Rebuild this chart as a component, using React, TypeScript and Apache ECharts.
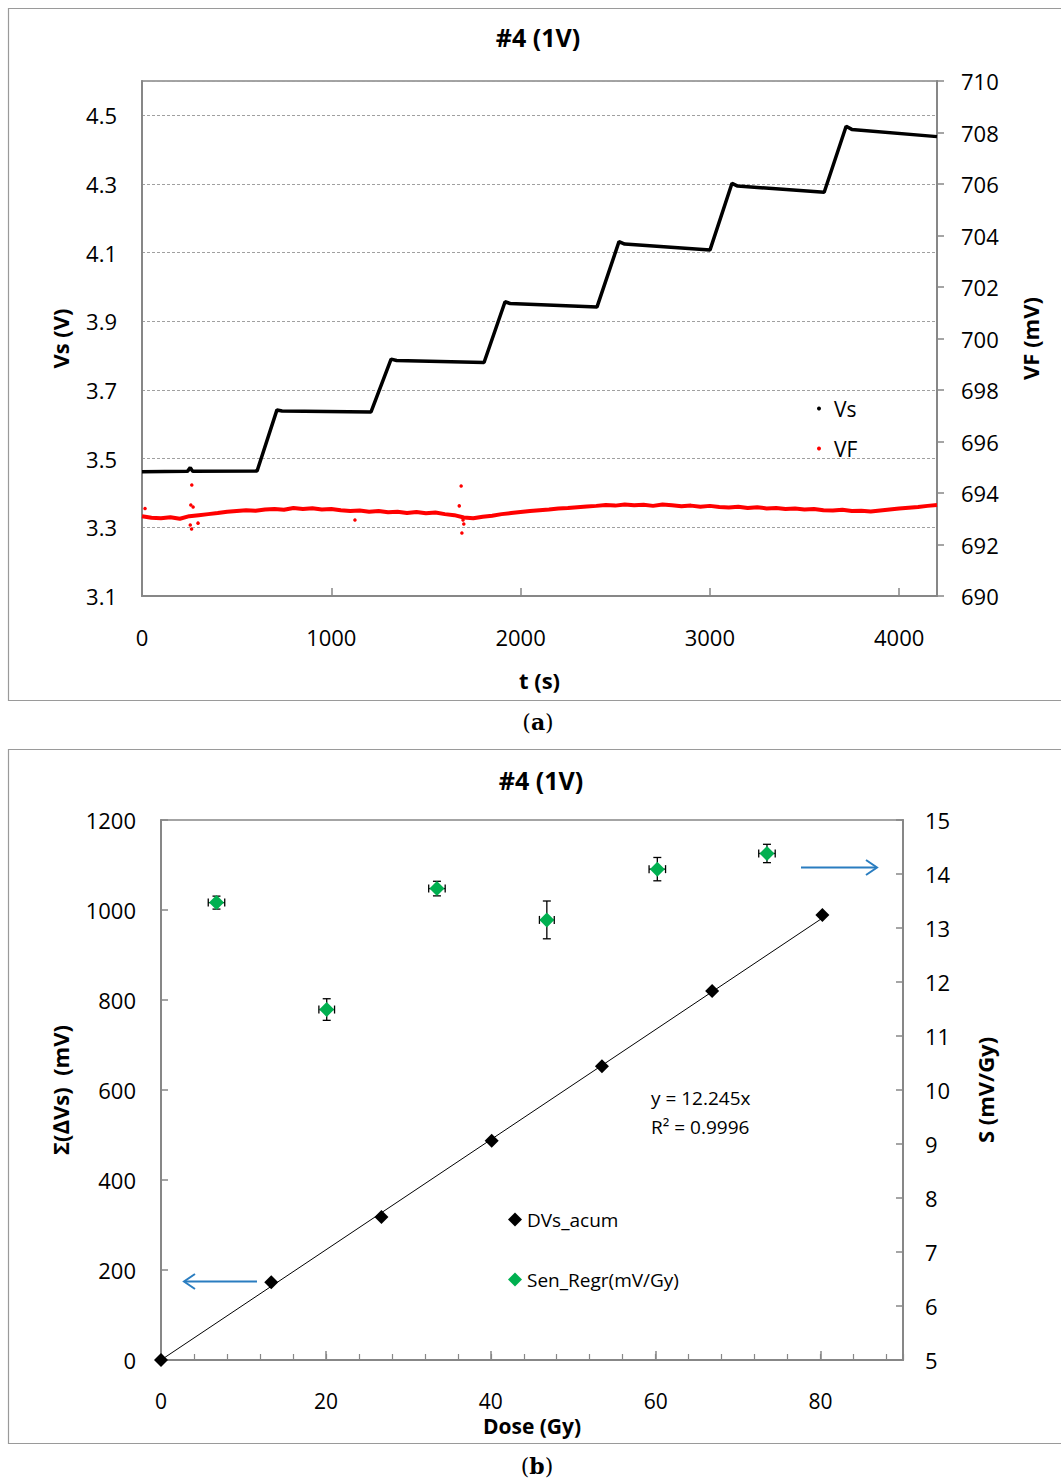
import React, { useEffect, useRef } from 'react';
import * as echarts from 'echarts';

// ---------- (a) time series ----------
const vsTime = [0, 240, 255, 268, 608, 713, 740, 1210, 1316, 1345, 1807, 1918, 1945, 2404, 2520, 2550, 3001, 3117, 3147, 3604, 3720, 3750, 4200];
const vsValue = [3.462, 3.463, 3.474, 3.463, 3.464, 3.642, 3.639, 3.636, 3.790, 3.786, 3.780, 3.957, 3.952, 3.942, 4.132, 4.125, 4.108, 4.302, 4.294, 4.276, 4.468, 4.459, 4.438];

const vfTime = [0, 50, 100, 150, 200, 250, 300, 350, 400, 450, 500, 550, 600, 650, 700, 750, 800, 850, 900, 950, 1000, 1050, 1100, 1150, 1200, 1250, 1300, 1350, 1400, 1450, 1500, 1550, 1600, 1650, 1700, 1750, 1800, 1850, 1900, 1950, 2000, 2050, 2100, 2150, 2200, 2250, 2300, 2350, 2400, 2450, 2500, 2550, 2600, 2650, 2700, 2750, 2800, 2850, 2900, 2950, 3000, 3050, 3100, 3150, 3200, 3250, 3300, 3350, 3400, 3450, 3500, 3550, 3600, 3650, 3700, 3750, 3800, 3850, 3900, 3950, 4000, 4050, 4100, 4150, 4200];
const vfValue = [693.10, 693.04, 693.02, 693.06, 693.00, 693.10, 693.14, 693.18, 693.22, 693.27, 693.30, 693.33, 693.31, 693.36, 693.38, 693.35, 693.42, 693.38, 693.41, 693.36, 693.38, 693.33, 693.30, 693.32, 693.27, 693.30, 693.25, 693.27, 693.22, 693.26, 693.21, 693.24, 693.18, 693.14, 693.05, 693.02, 693.08, 693.12, 693.18, 693.22, 693.26, 693.30, 693.33, 693.36, 693.40, 693.42, 693.45, 693.48, 693.50, 693.53, 693.51, 693.55, 693.52, 693.54, 693.50, 693.55, 693.52, 693.49, 693.51, 693.47, 693.50, 693.46, 693.44, 693.47, 693.42, 693.45, 693.40, 693.42, 693.38, 693.40, 693.36, 693.38, 693.33, 693.32, 693.35, 693.30, 693.31, 693.28, 693.32, 693.36, 693.40, 693.43, 693.46, 693.50, 693.53];

const vfOutTime = [16, 263, 258, 255, 262, 296, 270, 1125, 1686, 1690, 1676, 1696, 1700];
const vfOutValue = [693.40, 694.31, 693.53, 692.76, 692.60, 692.83, 693.46, 692.95, 694.27, 692.45, 693.50, 692.95, 692.80];

// ---------- (b) dose ----------
const doseAcc = [0, 13.37, 26.74, 40.11, 53.48, 66.85, 80.22];
const dvsAcum = [0, 173, 318, 487, 653, 820, 989];
const trendDose = [0, 80.22];
const trendValue = [0, 982];
const senDose = [6.73, 20.1, 33.47, 46.8, 60.2, 73.5];
const senValue = [13.47, 11.49, 13.73, 13.15, 14.09, 14.38];
const senErrDose = [1.0, 0.95, 1.0, 0.9, 1.0, 1.0];
const senErrValue = [0.12, 0.2, 0.135, 0.35, 0.216, 0.17];

const FONT = 'Open Sans';
const AXIS_GRAY = '#878787';

const zip = (a: number[], b: number[]) => a.map((v, i) => [v, b[i]]);
const plain = (v: number) => String(Math.round(v * 1000) / 1000);

export default function App() {
  const ref = useRef<HTMLDivElement>(null);
  useEffect(() => {
    document.body.style.margin = '0';
    const chart = echarts.init(ref.current!, undefined, { renderer: 'svg' });
    const labelStyle = { color: '#000', fontSize: 22, fontFamily: FONT };
    const nameStyle = { color: '#000', fontSize: 22, fontWeight: 'bold' as const, fontFamily: FONT };
    const axisLine = { show: true, onZero: false, lineStyle: { color: AXIS_GRAY, width: 2 } };
    const tick = (inside: boolean, length: number) => ({ show: true, inside, length, lineStyle: { color: AXIS_GRAY, width: 1.5 } });

    const option: any = {
      animation: false,
      textStyle: { fontFamily: FONT },
      grid: [
        { left: 142, top: 81, width: 795, height: 515, show: true, borderColor: AXIS_GRAY, borderWidth: 1.5, backgroundColor: 'transparent' },
        { left: 161, top: 820, width: 742, height: 540, show: true, borderColor: AXIS_GRAY, borderWidth: 1.5, backgroundColor: 'transparent' },
      ],
      xAxis: [
        {
          gridIndex: 0, type: 'value', position: 'bottom', min: 0, max: 4200, interval: 1000,
          axisLine, axisTick: tick(true, 8),
          axisLabel: { ...labelStyle, margin: 30, showMaxLabel: false, formatter: plain },
          splitLine: { show: false },
          name: 't (s)', nameLocation: 'middle', nameGap: 73, nameTextStyle: nameStyle,
        },
        {
          gridIndex: 1, type: 'value', position: 'bottom', min: 0, max: 90, interval: 20,
          axisLine, axisTick: tick(true, 9),
          axisLabel: { ...labelStyle, fontSize: 21, margin: 30, showMaxLabel: false, formatter: plain },
          splitLine: { show: false },
          name: 'Dose (Gy)', nameLocation: 'middle', nameGap: 55, nameTextStyle: { ...nameStyle, fontSize: 21 },
        },
        {
          gridIndex: 1, type: 'value', position: 'bottom', offset: 0, min: 0, max: 90, interval: 4,
          axisLine: { show: false, onZero: false },
          axisTick: { show: true, inside: true, length: 6, lineStyle: { color: AXIS_GRAY, width: 1.2 } },
          axisLabel: { show: false }, splitLine: { show: false },
        },
      ],
      yAxis: [
        {
          gridIndex: 0, type: 'value', position: 'left', min: 3.1, max: 4.6, interval: 0.2,
          axisLine, axisTick: { show: false },
          axisLabel: { ...labelStyle, margin: 25, showMaxLabel: false, formatter: (v: number) => v.toFixed(1) },
          splitLine: { show: true, lineStyle: { color: '#a0a0a0', width: 1, type: [3, 2] } },
          name: 'Vs (V)', nameLocation: 'middle', nameGap: 71, nameTextStyle: nameStyle,
        },
        {
          gridIndex: 0, type: 'value', position: 'right', min: 690, max: 710, interval: 2,
          axisLine, axisTick: tick(false, 7),
          axisLabel: { ...labelStyle, margin: 24, formatter: plain },
          splitLine: { show: false },
          name: 'VF (mV)', nameLocation: 'middle', nameGap: 82, nameTextStyle: nameStyle,
        },
        {
          gridIndex: 1, type: 'value', position: 'left', min: 0, max: 1200, interval: 200,
          axisLine, axisTick: tick(true, 7),
          axisLabel: { ...labelStyle, margin: 25, formatter: plain },
          splitLine: { show: false },
          name: 'Σ(∆Vs)  (mV)', nameLocation: 'middle', nameGap: 90, nameTextStyle: nameStyle,
        },
        {
          gridIndex: 1, type: 'value', position: 'right', min: 5, max: 15, interval: 1,
          axisLine, axisTick: tick(true, 7),
          axisLabel: { ...labelStyle, margin: 22, formatter: plain },
          splitLine: { show: false },
          name: 'S (mV/Gy)', nameLocation: 'middle', nameGap: 71, nameTextStyle: nameStyle,
        },
      ],
      legend: [
        {
          orient: 'vertical', left: 812, top: 393, itemGap: 19, itemWidth: 20, itemHeight: 4,
          selectedMode: false, icon: 'circle',
          textStyle: { color: '#000', fontSize: 21, fontFamily: FONT },
          data: [{ name: 'Vs' }, { name: 'VF' }],
        },
        {
          orient: 'vertical', left: 503, top: 1205, itemGap: 41, itemWidth: 14, itemHeight: 14,
          selectedMode: false, icon: 'diamond',
          textStyle: { color: '#000', fontSize: 19, fontFamily: FONT },
          data: [{ name: 'DVs_acum' }, { name: 'Sen_Regr(mV/Gy)' }],
        },
      ],
      series: [
        {
          name: 'Vs', type: 'line', xAxisIndex: 0, yAxisIndex: 0,
          data: zip(vsTime, vsValue), showSymbol: false, symbol: 'circle', color: '#000',
          lineStyle: { color: '#000', width: 3.5 }, z: 3,
        },
        {
          name: 'VF', type: 'line', xAxisIndex: 0, yAxisIndex: 1,
          data: zip(vfTime, vfValue), showSymbol: false, symbol: 'circle', color: '#ff0000',
          lineStyle: { color: '#ff0000', width: 4 }, z: 2,
        },
        {
          name: 'VF', type: 'scatter', xAxisIndex: 0, yAxisIndex: 1,
          data: zip(vfOutTime, vfOutValue), symbol: 'circle', symbolSize: 3.5, color: '#ff0000',
          itemStyle: { opacity: 1 }, z: 2,
        },
        {
          name: 'trend', type: 'line', xAxisIndex: 1, yAxisIndex: 2,
          data: zip(trendDose, trendValue), showSymbol: false, lineStyle: { color: '#000', width: 1 }, z: 2,
        },
        {
          name: 'DVs_acum', type: 'scatter', xAxisIndex: 1, yAxisIndex: 2,
          data: zip(doseAcc, dvsAcum), symbol: 'diamond', symbolSize: 14, color: '#000',
          itemStyle: { opacity: 1 }, z: 4,
        },
        {
          name: 'errbars', type: 'custom', xAxisIndex: 1, yAxisIndex: 3,
          data: senDose.map((d, i) => [d, senValue[i], senErrDose[i], senErrValue[i]]),
          encode: { x: 0, y: 1 }, z: 3,
          renderItem: (params: any, api: any) => {
            const x = api.value(0), y = api.value(1), ex = api.value(2), ey = api.value(3);
            const t = api.coord([x, y + ey]);
            const b = api.coord([x, y - ey]);
            const l = api.coord([x - ex, y]);
            const r = api.coord([x + ex, y]);
            const cap = 4;
            const style = { stroke: '#000', lineWidth: 1.3 };
            return {
              type: 'group',
              children: [
                { type: 'line', shape: { x1: t[0], y1: t[1], x2: b[0], y2: b[1] }, style },
                { type: 'line', shape: { x1: t[0] - cap, y1: t[1], x2: t[0] + cap, y2: t[1] }, style },
                { type: 'line', shape: { x1: b[0] - cap, y1: b[1], x2: b[0] + cap, y2: b[1] }, style },
                { type: 'line', shape: { x1: l[0], y1: l[1], x2: r[0], y2: r[1] }, style },
                { type: 'line', shape: { x1: l[0], y1: l[1] - cap, x2: l[0], y2: l[1] + cap }, style },
                { type: 'line', shape: { x1: r[0], y1: r[1] - cap, x2: r[0], y2: r[1] + cap }, style },
              ],
            };
          },
        },
        {
          name: 'Sen_Regr(mV/Gy)', type: 'scatter', xAxisIndex: 1, yAxisIndex: 3,
          data: zip(senDose, senValue), symbol: 'diamond', symbolSize: 15, color: '#00b050',
          itemStyle: { opacity: 1 }, z: 5,
        },
      ],
      graphic: [
        { type: 'rect', z: -10, shape: { x: 8.5, y: 8.5, width: 1070, height: 692 }, style: { fill: 'none', stroke: '#9a9a9a', lineWidth: 1.2 } },
        { type: 'rect', z: -10, shape: { x: 8.5, y: 749.5, width: 1070, height: 694 }, style: { fill: 'none', stroke: '#9a9a9a', lineWidth: 1.2 } },
        { type: 'text', x: 538, y: 37, style: { text: '#4 (1V)', fontSize: 25, fontWeight: 'bold', fontFamily: FONT, fill: '#000', align: 'center', verticalAlign: 'middle' } },
        { type: 'text', x: 541, y: 780, style: { text: '#4 (1V)', fontSize: 25, fontWeight: 'bold', fontFamily: FONT, fill: '#000', align: 'center', verticalAlign: 'middle' } },
        {
          type: 'text', x: 538, y: 722,
          style: {
            text: '{n|(}{b|a}{n|)}', align: 'center', verticalAlign: 'middle',
            rich: { n: { fontSize: 22, fontFamily: 'DejaVu Serif', fill: '#000' }, b: { fontSize: 22, fontFamily: 'DejaVu Serif', fontWeight: 'bold', fill: '#000' } },
          },
        },
        {
          type: 'text', x: 537, y: 1466,
          style: {
            text: '{n|(}{b|b}{n|)}', align: 'center', verticalAlign: 'middle',
            rich: { n: { fontSize: 22, fontFamily: 'DejaVu Serif', fill: '#000' }, b: { fontSize: 22, fontFamily: 'DejaVu Serif', fontWeight: 'bold', fill: '#000' } },
          },
        },
        { type: 'text', x: 651, y: 1098, style: { text: 'y = 12.245x', fontSize: 19, fontFamily: FONT, fill: '#000', align: 'left', verticalAlign: 'middle' } },
        { type: 'text', x: 651, y: 1127, style: { text: 'R² = 0.9996', fontSize: 19, fontFamily: FONT, fill: '#000', align: 'left', verticalAlign: 'middle' } },
        { type: 'line', shape: { x1: 801, y1: 867.5, x2: 876, y2: 867.5 }, style: { stroke: '#2a7dc0', lineWidth: 2.2 } },
        { type: 'polyline', shape: { points: [[866, 860], [877, 867.5], [866, 875]] }, style: { stroke: '#2a7dc0', lineWidth: 2, fill: 'none' } },
        { type: 'line', shape: { x1: 257, y1: 1281.5, x2: 185, y2: 1281.5 }, style: { stroke: '#2a7dc0', lineWidth: 2.2 } },
        { type: 'polyline', shape: { points: [[195, 1274], [184, 1281.5], [195, 1289]] }, style: { stroke: '#2a7dc0', lineWidth: 2, fill: 'none' } },
      ],
    };
    chart.setOption(option);
    return () => chart.dispose();
  }, []);
  return <div ref={ref} style={{ width: 1061, height: 1481 }} />;
}
